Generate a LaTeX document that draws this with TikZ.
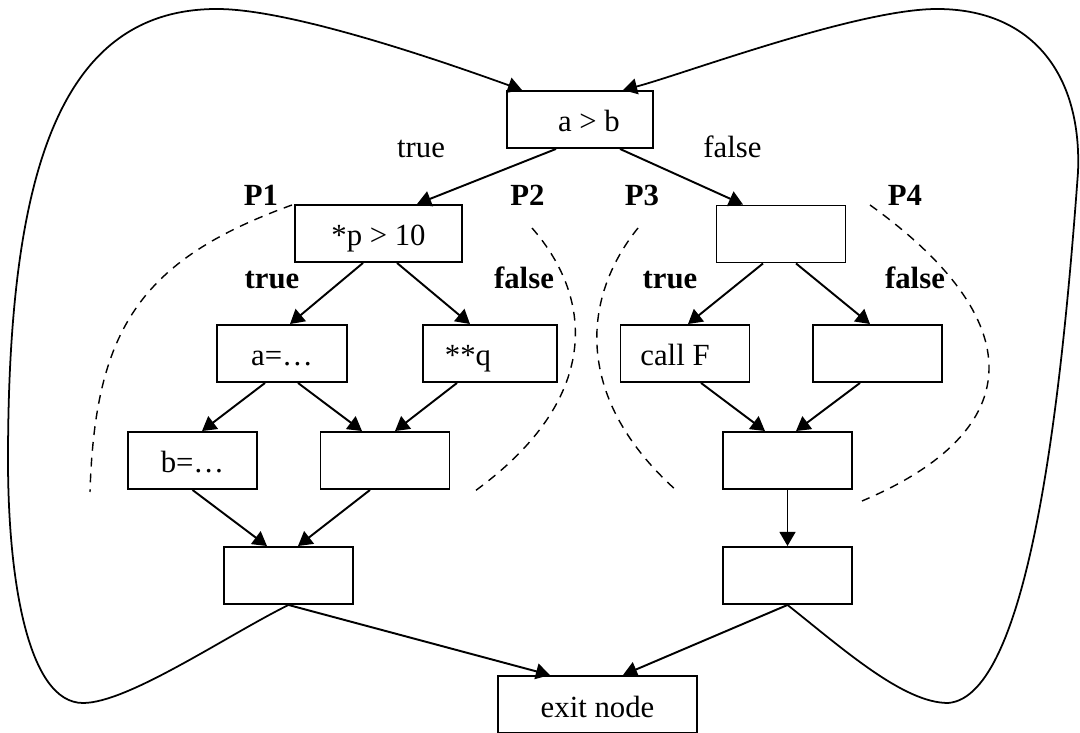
\documentclass[tikz,border=0pt]{standalone}
\usepackage{fontspec}
\setmainfont{Liberation Serif}
\usetikzlibrary{arrows.meta}

\begin{document}
\begin{tikzpicture}[x=2cm,y=2cm,>={Triangle[length=8pt,width=9pt]},
  every node/.style={font=\fontsize{17.5}{21}\selectfont},
  blk/.style={draw,line width=1.1pt,minimum width=2.58cm,minimum height=1.14cm,inner sep=0pt,text height=0.6cm,text depth=0.1cm},
  lbl/.style={anchor=base,font=\fontsize{17.5}{21}\selectfont\bfseries},
  cut/.style={line width=0.8pt,dash pattern=on 5pt off 4pt}]
\useasboundingbox (0,0) rectangle (10.8,7.32);
\clip (0,0) rectangle (10.8,7.32);

% blocks
\node[blk,minimum width=2.92cm] (ab) at (5.80,6.125) {\hspace*{0.36cm}a > b};
\node[blk,minimum width=3.34cm] (p10) at (3.785,4.985) {*p > 10};
\node[blk] (fb) at (7.81,4.98) {};
\node[blk,minimum width=2.6cm] (aa) at (2.82,3.785) {a=…};
\node[blk,minimum width=2.68cm] (qq) at (4.90,3.785) {**q\hspace*{0.88cm}};
\node[blk] (cf) at (6.85,3.785) {call F\hspace*{0.4cm}};
\node[blk] (r3) at (8.775,3.785) {};
\node[blk] (bb) at (1.925,2.715) {b=…};
\node[blk] (mm) at (3.85,2.715) {};
\node[blk] (r4) at (7.875,2.715) {};
\node[blk] (lb) at (2.885,1.565) {};
\node[blk] (r5) at (7.875,1.565) {};
\node[blk,minimum width=3.98cm] (ex) at (5.975,0.275) {exit node};

% edges
\path[->,line width=1.1pt] ([xshift=-4.8mm]ab.south) edge ([xshift=7.7mm]p10.north)
  ([xshift=8mm]ab.south) edge ([xshift=-7.6mm]fb.north)
  ([xshift=-3.1mm]p10.south) edge ([xshift=1.6mm]aa.north)
  ([xshift=3.7mm]p10.south) edge ([xshift=-4mm]qq.north)
  ([xshift=-3.6mm]fb.south) edge ([xshift=0.6mm]cf.north)
  ([xshift=3mm]fb.south) edge ([xshift=-1.5mm]r3.north)
  ([xshift=-3.4mm]aa.south) edge ([xshift=1.9mm]bb.north)
  ([xshift=3.2mm]aa.south) edge ([xshift=-4.6mm]mm.north)
  ([xshift=-6.6mm]qq.south) edge ([xshift=2mm]mm.north)
  (bb.south) edge ([xshift=-4.3mm]lb.north)
  ([xshift=-3mm]mm.south) edge ([xshift=1.9mm]lb.north)
  ([xshift=3.2mm]cf.south) edge ([xshift=-4.5mm]r4.north)
  ([xshift=-3.5mm]r3.south) edge ([xshift=1.7mm]r4.north)
  (r4.south) edge (r5.north)
  (lb.south) edge ([xshift=-9.5mm]ex.north)
  (r5.south) edge ([xshift=5.1mm]ex.north);

% back loops
\draw[->,line width=1pt] (lb.south) .. controls (2.26,0.96) and (1.28,0.29) .. (0.83,0.29)
  .. controls (0.28,0.29) and (0.08,1.52) .. (0.08,2.72)
  .. controls (0.08,5.6) and (0.6,7.23) .. (2.17,7.23)
  .. controls (2.97,7.23) and (4.66,6.62) .. ([xshift=-11.6mm]ab.north);
\draw[->,line width=1pt] (r5.south) .. controls (8.42,0.84) and (9.03,0.29) .. (9.48,0.29)
  .. controls (10.3,0.35) and (10.62,3.4) .. (10.78,5.6)
  .. controls (10.82,6.6) and (10.3,7.23) .. (9.37,7.23)
  .. controls (8.57,7.23) and (6.81,6.57) .. ([xshift=8.6mm]ab.north);

% labels
\node[anchor=base] (tl) at (4.21,5.74) {true};
\node[anchor=base] (fl) at (7.325,5.74) {false};
\node[lbl] (p1) at (2.61,5.26) {P1};
\node[lbl] (p2) at (5.275,5.26) {P2};
\node[lbl] (p3) at (6.42,5.26) {P3};
\node[lbl] (p4) at (9.05,5.26) {P4};
\node[lbl] (tl1) at (2.72,4.43) {true};
\node[lbl] (fl1) at (5.24,4.43) {false};
\node[lbl] (tl2) at (6.70,4.43) {true};
\node[lbl] (fl2) at (9.15,4.43) {false};

% path cuts
\draw[cut] (2.92,5.27) .. controls (1.40,4.72) and (0.95,4.02) .. (0.90,2.40);
\draw[cut] (5.32,5.04) .. controls (5.95,4.32) and (6.00,3.32) .. (4.75,2.41);
\draw[cut] (6.38,5.04) .. controls (5.80,4.32) and (5.75,3.32) .. (6.77,2.41);
\draw[cut] (8.70,5.27) .. controls (10.30,4.12) and (10.30,3.02) .. (8.62,2.31);
\end{tikzpicture}
\end{document}
